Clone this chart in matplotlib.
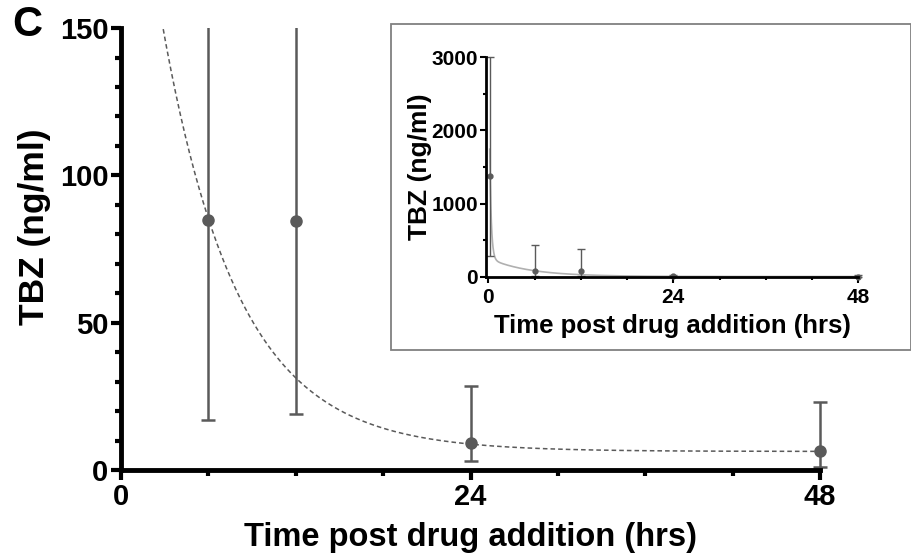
import numpy as np
import matplotlib.pyplot as plt
from matplotlib.patches import Rectangle
from matplotlib.ticker import MultipleLocator

plt.rcParams['font.family'] = ['Liberation Sans', 'DejaVu Sans']
plt.rcParams['font.weight'] = 'bold'

# measured TBZ (ng/ml), mean with lower / upper error
time_h = [0.17, 6, 12, 24, 48]
tbz_mean = [1380, 85, 84.5, 9, 6.5]
err_low = [290, 17, 19, 3, 1]
err_high = [3000, 432, 377, 28.5, 23]

# two-phase decay fit: plateau + fast + slow
fit_plateau = 6.3
fit_fast_amp, fit_fast_k = 3500, 5.0
fit_slow_amp, fit_slow_k = 250, 0.192


def fit_curve(t):
    return (fit_plateau + fit_fast_amp * np.exp(-fit_fast_k * t)
            + fit_slow_amp * np.exp(-fit_slow_k * t))


t_mean = np.array(tbz_mean)
yerr = [t_mean - np.array(err_low), np.array(err_high) - t_mean]

fig = plt.figure(figsize=(9.12, 5.58), dpi=100)
gray = '#5a5a5a'

# ---- main panel ----
ax = fig.add_axes([0.1327, 0.1577, 0.7664, 0.792])
tt = np.linspace(0.5, 48, 600)
ax.plot(tt, fit_curve(tt), ls='--', color=gray, lw=1.1, dashes=(3, 2))
eb = ax.errorbar(time_h[1:], tbz_mean[1:], yerr=[yerr[0][1:], yerr[1][1:]],
                 fmt='o', color=gray, ms=8, elinewidth=1.8, capsize=5,
                 capthick=1.8)
# clip only at the top (let the last point hang past x=48)
clip = Rectangle((-0.05, -0.1), 1.1, 1.1, transform=ax.transAxes)
for art in [eb[0], *eb[1], *eb[2]]:
    art.set_clip_path(clip)
ax.set_xlim(0, 48)
ax.set_ylim(0, 150)
ax.set_xticks([0, 24, 48])
ax.set_yticks([0, 50, 100, 150])
ax.xaxis.set_minor_locator(MultipleLocator(6))
ax.yaxis.set_minor_locator(MultipleLocator(10))
for s in ['top', 'right']:
    ax.spines[s].set_visible(False)
for s in ['left', 'bottom']:
    ax.spines[s].set_linewidth(3.5)
ax.tick_params(which='major', width=3, length=7, labelsize=21, pad=2)
ax.tick_params(which='minor', width=3, length=4)
ax.set_xlabel('Time post drug addition (hrs)', fontsize=23.5, fontweight='bold', labelpad=8)
ax.set_ylabel('TBZ (ng/ml)', fontsize=25.5, fontweight='bold')
ax.yaxis.set_label_coords(-0.10, 0.55)
fig.text(0.013, 0.935, 'C', fontsize=30, fontweight='bold')

# ---- inset ----
fig.patches.append(Rectangle((391 / 912, 1 - 350 / 558), 520 / 912, 326 / 558,
                             transform=fig.transFigure, fill=False,
                             edgecolor='#808080', lw=1.3))
ins = fig.add_axes([0.533, 0.5036, 0.408, 0.394])
ti = np.linspace(0.17, 48, 2000)
ins.plot(ti, fit_curve(ti), color='#b0b0b0', lw=1.2)
ins.errorbar(time_h, tbz_mean, yerr=yerr, fmt='o', color=gray, ms=3.5,
             elinewidth=1, capsize=3, capthick=1, clip_on=False)
ins.set_xlim(-0.3, 48)
ins.set_ylim(0, 3000)
ins.set_xticks([0, 24, 48])
ins.set_yticks([0, 1000, 2000, 3000])
ins.xaxis.set_minor_locator(MultipleLocator(6))
ins.yaxis.set_minor_locator(MultipleLocator(500))
for s in ['top', 'right']:
    ins.spines[s].set_visible(False)
for s in ['left', 'bottom']:
    ins.spines[s].set_linewidth(2)
ins.tick_params(which='major', width=1.5, length=4, labelsize=15, pad=2)
ins.tick_params(which='minor', width=1.5, length=2)
ins.tick_params(axis='x', pad=4)
ins.set_xlabel('Time post drug addition (hrs)', fontsize=18.5, fontweight='bold', labelpad=5)
ins.set_ylabel('TBZ (ng/ml)', fontsize=19, fontweight='bold')
ins.yaxis.set_label_coords(-0.145, 0.5)

fig.savefig('out.png', dpi=100)
